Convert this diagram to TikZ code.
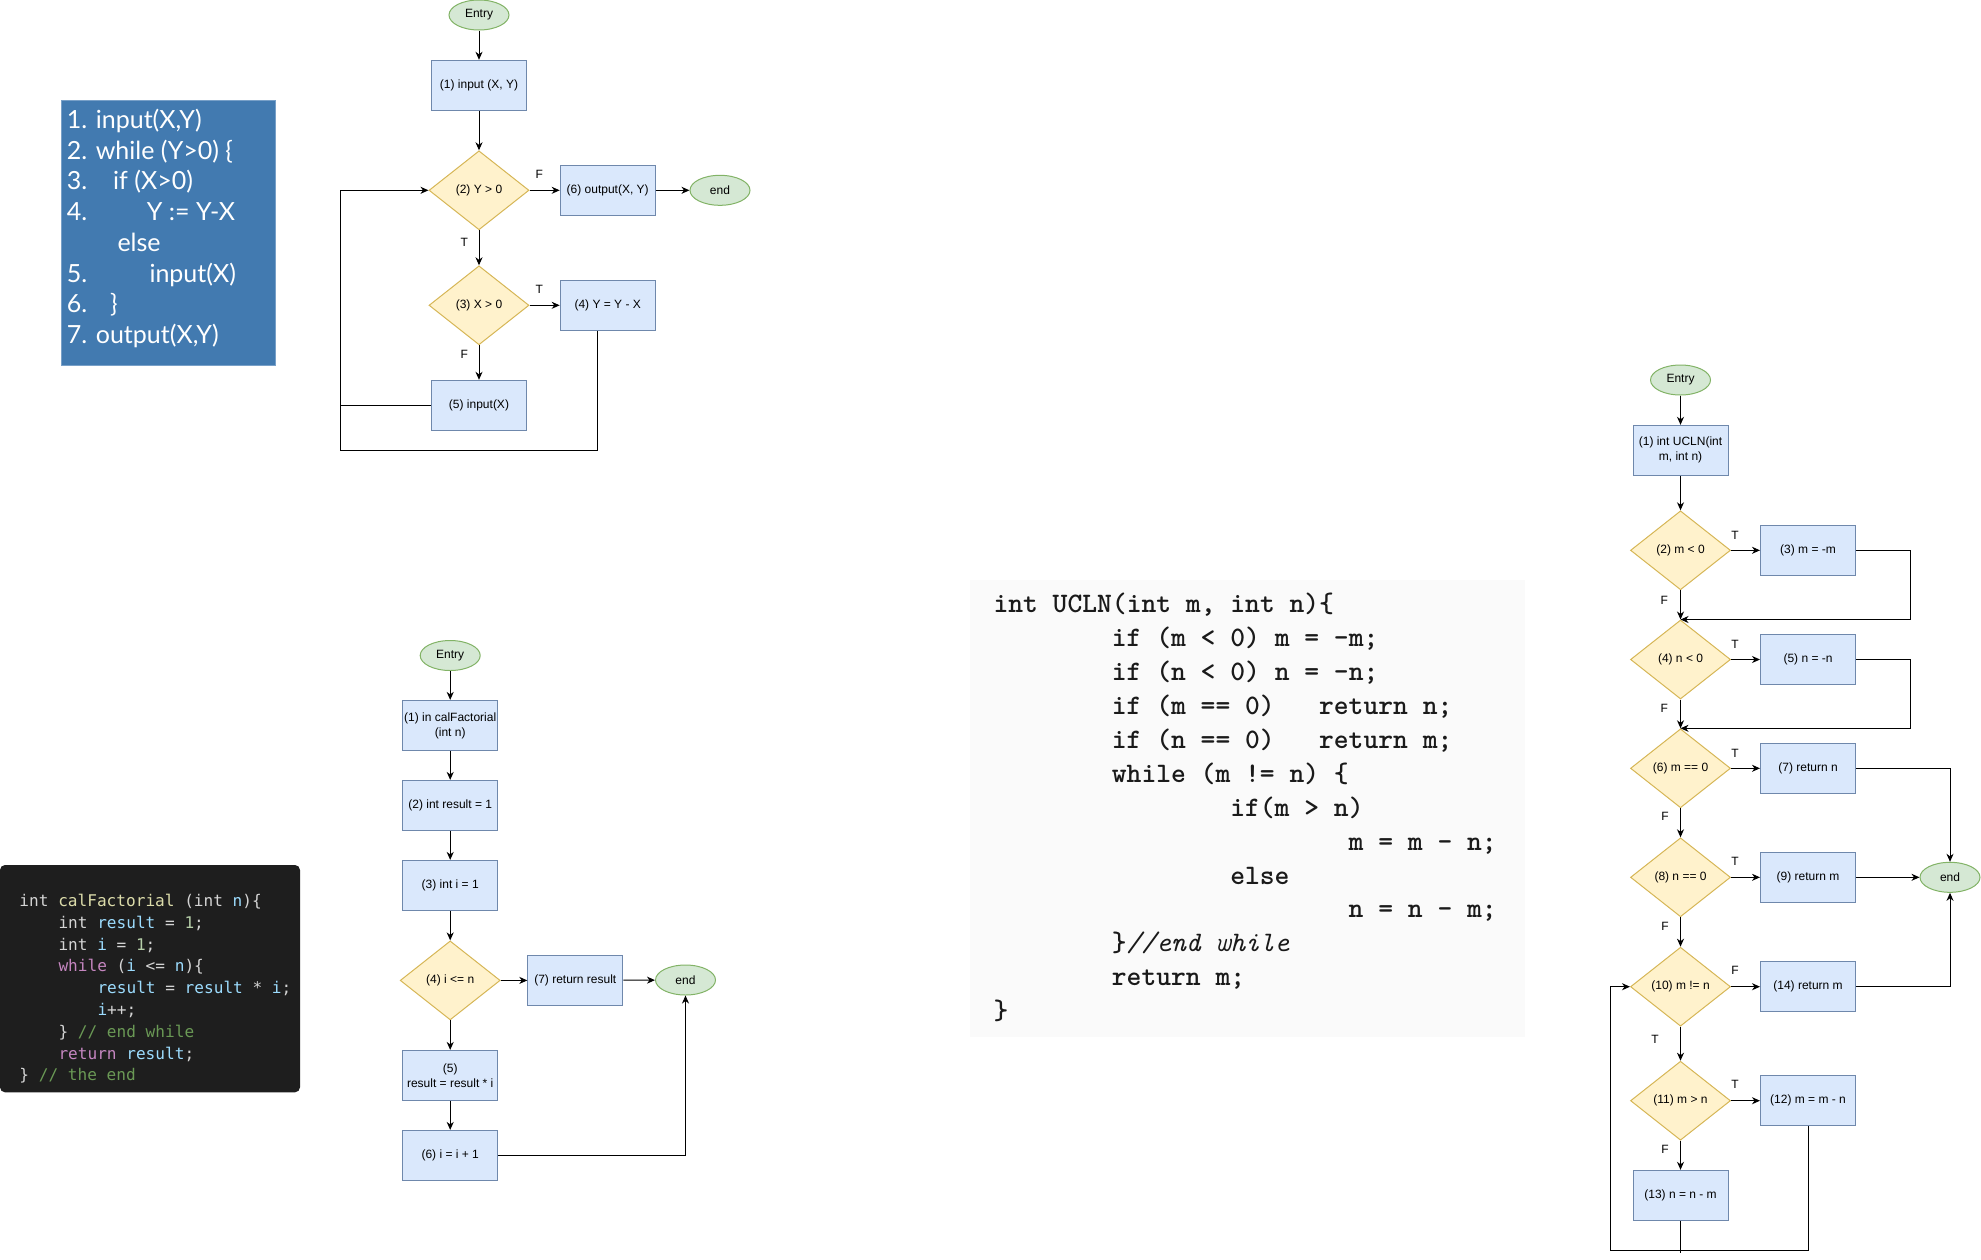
\documentclass[tikz,border=0pt]{standalone}
\usepackage{fontspec}
\setmainfont{Liberation Sans}
\newfontfamily\gillfont{Lato}
\newfontfamily\menlofont{DejaVu Sans Mono}
\usetikzlibrary{shapes.geometric,arrows.meta}

\definecolor{boxfill}{HTML}{DAE8FC}
\definecolor{boxline}{HTML}{6F88AC}
\definecolor{decfill}{HTML}{FFF2CC}
\definecolor{decline}{HTML}{D6B656}
\definecolor{termfill}{HTML}{D5E8D4}
\definecolor{termline}{HTML}{82B366}
\definecolor{panelblue}{RGB}{66,122,176}
\definecolor{paneledge}{RGB}{120,160,200}
\definecolor{codebg}{HTML}{1E1E1E}
\definecolor{cwhite}{HTML}{D4D4D4}
\definecolor{cyellow}{HTML}{DCDCAA}
\definecolor{cblue}{HTML}{9CDCFE}
\definecolor{cgreen}{HTML}{B5CEA8}
\definecolor{cpurple}{HTML}{C586C0}
\definecolor{ccomment}{HTML}{6A9955}
\definecolor{uclnbg}{HTML}{FAFAFA}
\definecolor{uclntext}{HTML}{1A1A1A}

\tikzset{
  proc/.style={draw=boxline, fill=boxfill, line width=1, minimum width=95, minimum height=50,
    inner sep=1, align=center, font=\fontsize{12}{15}\selectfont},
  dec/.style={diamond, draw=decline, fill=decfill, line width=1, minimum width=100,
    minimum height=79, inner sep=0, font=\fontsize{12}{15}\selectfont},
  term/.style={ellipse, draw=termline, fill=termfill, line width=1, minimum width=60,
    minimum height=30, inner sep=0, font=\fontsize{12}{15}\selectfont},
  lbl/.style={inner sep=0, font=\fontsize{12}{14}\selectfont},
  arr/.style={-{Stealth[length=8pt,width=7pt,inset=2.5pt]}, line width=1},
  link/.style={line width=1},
  gtext/.style={anchor=base west, inner sep=0, text=white, font=\gillfont\fontsize{25}{29}\selectfont},
  fcode/.style={anchor=base west, inner sep=0, text=cwhite, font=\menlofont\fontsize{16.1}{19}\selectfont},
  ucode/.style={anchor=base west, inner sep=0, text=uclntext, font=\ttfamily\bfseries\fontsize{28.2}{33}\selectfont},
}

% one line of text in each listing, placed by column and row
\newcommand\gline[4]{\node[gtext] (#1) at (#2,{128.5+#3*30.7}) {#4};}
\newcommand\fline[4]{\node[fcode] (#1) at ({19.3+#2*9.75},{906.5+#3*21.8}) {#4};}
\newcommand\uline[4]{\node[ucode] (#1) at ({993.3+#2*14.8},{612.8+#3*33.9}) {#4};}

\begin{document}
\begin{tikzpicture}[x=1pt,y=-1pt]
\useasboundingbox (0,0) rectangle (1981,1259);

% ---------- pseudo-code panel ----------
\fill[panelblue] (61,100) rectangle (275.7,365);
\draw[paneledge, line width=0.8] (61,100) rectangle (275.7,365);
\gline{g1}{66.7}{0}{1. input(X,Y)}
\gline{g2}{66.7}{1}{2. while (Y>0) \{}
\gline{g3}{66.7}{2}{3.}
\gline{g3b}{113}{2}{if (X>0)}
\gline{g4}{66.7}{3}{4.}
\gline{g4b}{146.7}{3}{Y := Y-X}
\gline{g5}{117.3}{4}{else}
\gline{g6}{66.7}{5}{5.}
\gline{g6b}{149.3}{5}{input(X)}
\gline{g7}{66.7}{6}{6.}
\gline{g7b}{110}{6}{\}}
\gline{g8}{66.7}{7}{7. output(X,Y)}

% ---------- flow graph of the pseudo-code ----------
\node[term] (aE) at (479,15) {Entry};
\node[proc] (a1) at (479,85.3) {(1) input (X, Y)};
\node[dec]  (a2) at (479,190.3) {(2) Y > 0};
\node[proc] (a6) at (607.7,190.3) {(6) output(X, Y)};
\node[term] (aend) at (720,190.3) {end};
\node[dec]  (a3) at (479,305.3) {(3) X > 0};
\node[proc] (a4) at (607.7,305.3) {(4) Y = Y - X};
\node[proc] (a5) at (479,405.3) {(5) input(X)};
\coordinate (aL) at (340.7,450);

\draw[arr] (aE) -- (a1);
\draw[arr] (a1) -- (a2);
\draw[arr] (a2) -- (a6);
\draw[arr] (a6) -- (aend);
\draw[arr] (a2) -- (a3);
\draw[arr] (a3) -- (a4);
\draw[arr] (a3) -- (a5);
\draw[link] (a5.west) -- (a5.west -| aL);
\draw[arr] ([xshift=-10.7]a4.south) |- (aL) |- (a2.west);

\node[lbl] (a2F) at (539.3,174) {F};
\node[lbl] (a2T) at (464.3,242.3) {T};
\node[lbl] (a3T) at (539.3,289.3) {T};
\node[lbl] (a3F) at (464.3,354.3) {F};

% ---------- calFactorial source ----------
\fill[codebg, rounded corners=5] (0,865) rectangle (300,1092.3);
\fline{f1}{0}{0}{int \textcolor{cyellow}{calFactorial} (int \textcolor{cblue}{n})\{}
\fline{f2}{4}{1}{int \textcolor{cblue}{result} = \textcolor{cgreen}{1};}
\fline{f3}{4}{2}{int \textcolor{cblue}{i} = \textcolor{cgreen}{1};}
\fline{f4}{4}{3}{\textcolor{cpurple}{while} (\textcolor{cblue}{i} <= \textcolor{cblue}{n})\{}
\fline{f5}{8}{4}{\textcolor{cblue}{result} = \textcolor{cblue}{result} * \textcolor{cblue}{i};}
\fline{f6}{8}{5}{\textcolor{cblue}{i}++;}
\fline{f7}{4}{6}{\} \textcolor{ccomment}{// end while}}
\fline{f8}{4}{7}{\textcolor{cpurple}{return} \textcolor{cblue}{result};}
\fline{f9}{0}{8}{\} \textcolor{ccomment}{// the end}}

% ---------- flow graph of calFactorial ----------
\node[term] (bE) at (450.2,655.5) {Entry};
\node[proc] (b1) at (450.2,725.4) {(1) in calFactorial\\(int n)};
\node[proc] (b2) at (450.2,805.4) {(2) int result = 1};
\node[proc] (b3) at (450.2,885.4) {(3) int i = 1};
\node[dec]  (b4) at (450.2,980.4) {(4) i <= n};
\node[proc] (b7) at (575.3,980.4) {(7) return result};
\node[term] (bend) at (685.5,980) {end};
\node[proc] (b5) at (450.2,1075.4) {(5)\\result = result * i};
\node[proc] (b6) at (450.2,1155.4) {(6) i = i + 1};

\draw[arr] (bE) -- (b1);
\draw[arr] (b1) -- (b2);
\draw[arr] (b2) -- (b3);
\draw[arr] (b3) -- (b4);
\draw[arr] (b4) -- (b7);
\draw[arr] (b7) -- (bend);
\draw[arr] (b4) -- (b5);
\draw[arr] (b5) -- (b6);
\draw[arr] (b6.east) -| (bend.south);

% ---------- UCLN source ----------
\fill[uclnbg] (970,580) rectangle (1525,1036.7);
\uline{u1}{0}{0}{int UCLN(int m, int n)\{}
\uline{u2}{8}{1}{if (m < 0) m = -m;}
\uline{u3}{8}{2}{if (n < 0) n = -n;}
\uline{u4}{8}{3}{if (m == 0)}
\uline{u4r}{22}{3}{return n;}
\uline{u5}{8}{4}{if (n == 0)}
\uline{u5r}{22}{4}{return m;}
\uline{u6}{8}{5}{while (m != n) \{}
\uline{u7}{16}{6}{if(m > n)}
\uline{u8}{24}{7}{m = m - n;}
\uline{u9}{16}{8}{else}
\uline{u10}{24}{9}{n = n - m;}
\uline{u11}{8}{10}{\}{\mdseries\itshape//end while}}
\uline{u12}{8}{11}{return m;}
\uline{u13}{0}{12}{\}}

% ---------- flow graph of UCLN ----------
\node[term] (cE) at (1680.5,380) {Entry};
\node[proc] (c1) at (1680.5,450.3) {(1) int UCLN(int\\m, int n)};
\node[dec]  (c2) at (1680.5,550.3) {(2) m < 0};
\node[proc] (c3) at (1808,550.3) {(3) m = -m};
\node[dec]  (c4) at (1680.5,659.5) {(4) n < 0};
\node[proc] (c5) at (1808,659.5) {(5) n = -n};
\node[dec]  (c6) at (1680.5,768.3) {(6) m == 0};
\node[proc] (c7) at (1808,768.3) {(7) return n};
\node[dec]  (c8) at (1680.5,877.3) {(8) n == 0};
\node[proc] (c9) at (1808,877.3) {(9) return m};
\node[term] (cend) at (1950,877.3) {end};
\node[dec]  (c10) at (1680.5,986.7) {(10) m != n};
\node[proc] (c14) at (1808,986.7) {(14) return m};
\node[dec]  (c11) at (1680.5,1100.7) {(11) m > n};
\node[proc] (c12) at (1808,1100.7) {(12) m = m - n};
\node[proc] (c13) at (1680.5,1195.3) {(13) n = n - m};
\coordinate (cL) at (1610.7,1250);

\draw[arr] (cE) -- (c1);
\draw[arr] (c1) -- (c2);
\draw[arr] (c2) -- (c3);
\draw[arr] (c2) -- (c4);
\draw[arr] (c3.east) -- ++(54.3,0) |- (c4.north);
\draw[arr] (c4) -- (c5);
\draw[arr] (c4) -- (c6);
\draw[arr] (c5.east) -- ++(54.3,0) |- (c6.north);
\draw[arr] (c6) -- (c7);
\draw[arr] (c6) -- (c8);
\draw[arr] (c7.east) -| (cend.north);
\draw[arr] (c8) -- (c9);
\draw[arr] (c9) -- (cend);
\draw[arr] (c8) -- (c10);
\draw[arr] (c10) -- (c14);
\draw[arr] (c14.east) -| (cend.south);
\draw[arr] (c10) -- (c11);
\draw[arr] (c11) -- (c12);
\draw[arr] (c11) -- (c13);
\draw[link] (c13.south) -- ++(0,32.4);
\draw[arr] (c12.south) |- (cL) |- (c10.west);

\node[lbl] (c2T) at (1735,535) {T};
\node[lbl] (c2F) at (1664.3,600) {F};
\node[lbl] (c4T) at (1735,644.5) {T};
\node[lbl] (c4F) at (1664.3,708.3) {F};
\node[lbl] (c6T) at (1735,753) {T};
\node[lbl] (c6F) at (1665,816.7) {F};
\node[lbl] (c8T) at (1735,861.7) {T};
\node[lbl] (c8F) at (1665,926.7) {F};
\node[lbl] (c10F) at (1735,970.7) {F};
\node[lbl] (c10T) at (1655,1039.3) {T};
\node[lbl] (c11T) at (1735,1084.3) {T};
\node[lbl] (c11F) at (1665,1149.3) {F};
\end{tikzpicture}
\end{document}
